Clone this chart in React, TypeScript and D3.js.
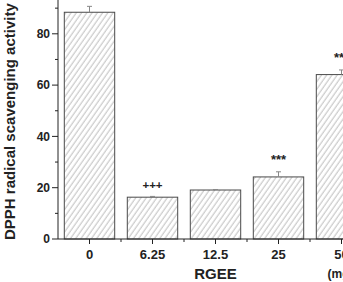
import React, { useEffect, useRef } from 'react';
import * as d3 from 'd3';

// RGEE concentrations and DPPH scavenging (%)
const categories = ['0', '6.25', '12.5', '25', '50'];
const activity = [88.4, 16.3, 19.1, 24.2, 64.1];
const errors = [2.3, 0.3, 0.2, 2.0, 1.8];
const marks = ['', '+++', '', '***', '***'];
const yTicks = [0, 20, 40, 60, 80, 100];
const yMinor = [10, 30, 50, 70, 90];

const App = () => {
    const svgRef = useRef<SVGSVGElement | null>(null);

    useEffect(() => {
        const width = 343;
        const height = 282;
        const margin = { left: 58, bottom: 239 };

        d3.select(svgRef.current).selectAll('*').remove();
        const svg = d3.select(svgRef.current)
            .attr('width', width)
            .attr('height', height)
            .style('font-family', '"Liberation Sans", Arial, sans-serif');

        // hatch pattern
        const defs = svg.append('defs');
        const pat = defs.append('pattern')
            .attr('id', 'hatch')
            .attr('patternUnits', 'userSpaceOnUse')
            .attr('width', 4.3)
            .attr('height', 10)
            .attr('patternTransform', 'rotate(35)');
        pat.append('rect').attr('width', 4.3).attr('height', 10).attr('fill', '#fff');
        pat.append('line')
            .attr('x1', 1).attr('x2', 1).attr('y1', 0).attr('y2', 10)
            .attr('stroke', '#a8a8a8')
            .attr('stroke-width', 0.8);

        const x = d3.scaleBand()
            .domain(categories)
            .range([margin.left, margin.left + 63 * categories.length])
            .paddingInner(0.2)
            .paddingOuter(0.1);

        const y = d3.scaleLinear()
            .domain([0, 100])
            .range([margin.bottom, margin.bottom - 256.5]);

        // bars
        svg.selectAll('.bar')
            .data(activity)
            .enter()
            .append('rect')
            .attr('x', (d, i) => x(categories[i])!)
            .attr('y', d => y(d))
            .attr('width', x.bandwidth())
            .attr('height', d => y(0) - y(d))
            .attr('fill', 'url(#hatch)')
            .attr('stroke', '#4a4a4a')
            .attr('stroke-width', 1);

        // error bars + significance marks
        activity.forEach((v, i) => {
            const cx = x(categories[i])! + x.bandwidth() / 2;
            svg.append('line')
                .attr('x1', cx).attr('x2', cx)
                .attr('y1', y(v)).attr('y2', y(v + errors[i]))
                .attr('stroke', '#888').attr('stroke-width', 1);
            svg.append('line')
                .attr('x1', cx - 2.5).attr('x2', cx + 2.5)
                .attr('y1', y(v + errors[i])).attr('y2', y(v + errors[i]))
                .attr('stroke', '#888').attr('stroke-width', 1);
            if (marks[i]) {
                const isPlus = marks[i].startsWith('+');
                svg.append('text')
                    .attr('x', cx)
                    .attr('y', isPlus ? y(v + errors[i]) - 7 : y(v + errors[i]) - 7.5)
                    .attr('text-anchor', 'middle')
                    .attr('font-size', isPlus ? 11.5 : 13)
                    .attr('font-weight', 'bold')
                    .attr('fill', '#222')
                    .text(marks[i]);
            }
        });

        // y axis
        svg.append('line')
            .attr('x1', margin.left).attr('x2', margin.left)
            .attr('y1', margin.bottom).attr('y2', 0)
            .attr('stroke', '#222').attr('stroke-width', 1);
        yTicks.forEach(t => {
            svg.append('line')
                .attr('x1', margin.left - 6).attr('x2', margin.left)
                .attr('y1', y(t)).attr('y2', y(t))
                .attr('stroke', '#222');
            svg.append('text')
                .attr('x', margin.left - 8)
                .attr('y', y(t))
                .attr('dy', '0.36em')
                .attr('text-anchor', 'end')
                .attr('font-size', 12)
                .attr('font-weight', 'bold')
                .attr('fill', '#222')
                .text(t);
        });
        yMinor.forEach(t => {
            svg.append('line')
                .attr('x1', margin.left - 3).attr('x2', margin.left)
                .attr('y1', y(t)).attr('y2', y(t))
                .attr('stroke', '#222');
        });

        // x axis
        svg.append('line')
            .attr('x1', margin.left).attr('x2', width)
            .attr('y1', margin.bottom).attr('y2', margin.bottom)
            .attr('stroke', '#222');
        categories.forEach((c, i) => {
            const cx = x(c)! + x.bandwidth() / 2;
            svg.append('line')
                .attr('x1', cx).attr('x2', cx)
                .attr('y1', margin.bottom).attr('y2', margin.bottom + 5)
                .attr('stroke', '#222');
            if (i > 0) {
                const bx = cx - x.step() / 2;
                svg.append('line')
                    .attr('x1', bx).attr('x2', bx)
                    .attr('y1', margin.bottom).attr('y2', margin.bottom + 3)
                    .attr('stroke', '#222');
            }
            svg.append('text')
                .attr('x', cx)
                .attr('y', 258.5)
                .attr('text-anchor', 'middle')
                .attr('font-size', 13)
                .attr('font-weight', 'bold')
                .attr('fill', '#222')
                .text(c);
        });

        // axis titles
        svg.append('text')
            .attr('x', 215.5)
            .attr('y', 278.5)
            .attr('text-anchor', 'middle')
            .attr('font-size', 15)
            .attr('font-weight', 'bold')
            .attr('fill', '#222')
            .text('RGEE');
        svg.append('text')
            .attr('x', 327.5)
            .attr('y', 277.5)
            .attr('font-size', 12)
            .attr('font-weight', 'bold')
            .attr('fill', '#222')
            .text('(mg/mL)');
        svg.append('text')
            .attr('transform', 'translate(15,240) rotate(-90)')
            .attr('font-size', 15)
            .attr('font-weight', 'bold')
            .attr('fill', '#222')
            .text('DPPH radical scavenging activity (%)');
    }, []);

    return (
        <div style={{ position: 'absolute', left: 0, top: 0 }}>
            <svg ref={svgRef}></svg>
        </div>
    );
};

export default App;
